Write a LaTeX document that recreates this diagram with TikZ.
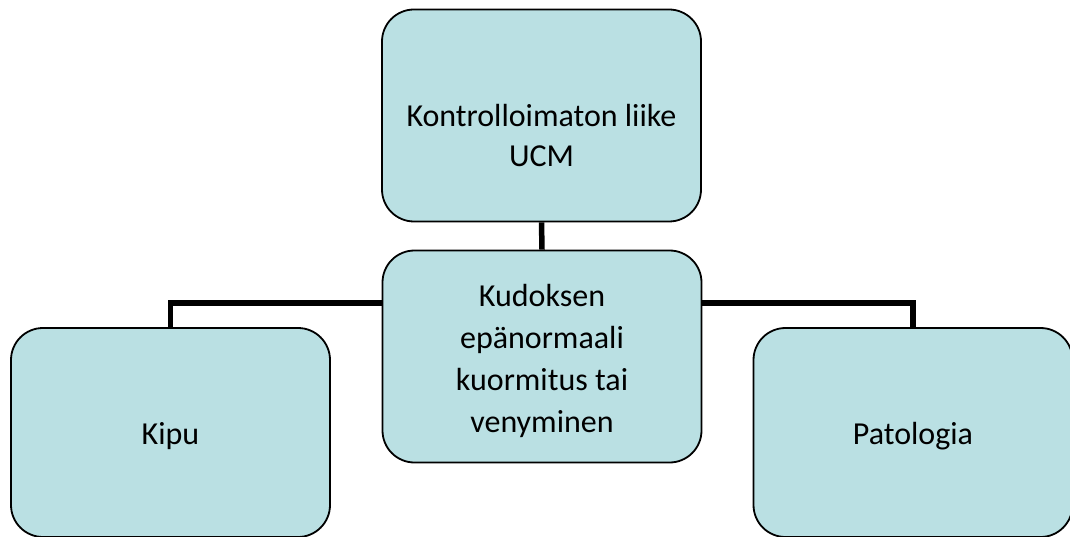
\documentclass[tikz,border=0pt]{standalone}
\usepackage{fontspec}
\setmainfont{Carlito}
\usetikzlibrary{backgrounds}
\definecolor{boxfill}{RGB}{186,224,227}
\tikzset{
  box/.style={draw=black, line width=1.8pt, fill=boxfill, rounded corners=32pt,
    minimum width=319pt, minimum height=212pt, inner sep=0pt},
  boxtext/.style={align=center, inner sep=0pt, text=black,
    font=\fontsize{32pt}{40pt}\selectfont},
  link/.style={draw=black, line width=5.5pt}
}
\begin{document}
\begin{tikzpicture}[x=1pt,y=-1pt]
\useasboundingbox (0,0) rectangle (1070,537);
\node[box, label={[boxtext, yshift=-20pt]center:{Kontrolloimaton liike\\UCM}}] (top) at (541.5,115.5) {};
\node[box, label={[boxtext, font=\fontsize{32pt}{42pt}\selectfont, yshift=-4pt]center:{Kudoksen\\epänormaali\\kuormitus tai\\venyminen}}] (mid) at (542,356.5) {};
\node[box, minimum height=209pt, label={[boxtext, yshift=-4pt]center:Kipu}] (left) at (170.5,432.5) {};
\node[box, minimum height=209pt, label={[boxtext, yshift=-4pt]center:Patologia}] (right) at (913,432.5) {};
\begin{pgfonlayer}{background}
\draw[link] (top.south) -- (mid.north);
\draw[link] (left.north) -- ++(0,-24) -| (right.north);
\end{pgfonlayer}
\end{tikzpicture}
\end{document}
